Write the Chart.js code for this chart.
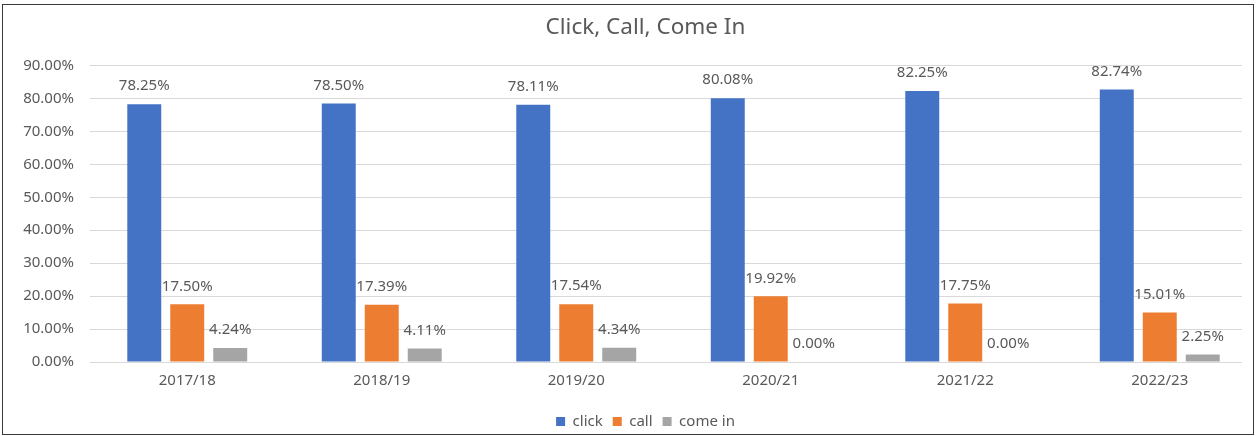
<!DOCTYPE html>
<html>
<head>
<meta charset="utf-8">
<script src="https://cdn.jsdelivr.net/npm/chart.js@4.4.0/dist/chart.umd.min.js"></script>
<style>
  html, body { margin: 0; padding: 0; background: #fff; }
  .chart-box {
    position: absolute; left: 2px; top: 4px;
    width: 1250px; height: 429px;
    border: 1px solid #3a3a3a;
    background: #fff;
  }
  canvas { display: block; }
</style>
</head>
<body>
<div class="chart-box"><canvas id="chart"></canvas></div>
<script>
const years = ['2017/18', '2018/19', '2019/20', '2020/21', '2021/22', '2022/23'];
const click = [78.25, 78.50, 78.11, 80.08, 82.25, 82.74];
const call = [17.50, 17.39, 17.54, 19.92, 17.75, 15.01];
const comeIn = [4.24, 4.11, 4.34, 0.00, 0.00, 2.25];

const textColor = '#595959';
const fontFamily = '"Noto Sans", "Open Sans", sans-serif';

// category axis whose groups spread a little past the gridlines, as in the original
class WideCategory extends Chart.CategoryScale {
  configure() {
    super.configure();
    this._length += 15;
  }
}
WideCategory.id = 'wideCategory';

// value axis that lets its labels run left of its narrow box
class FreeLinear extends Chart.LinearScale {
  _computeLabelArea() { return undefined; }
}
FreeLinear.id = 'freeLinear';
Chart.register(WideCategory, FreeLinear);

// draws the value above every bar, like Excel data labels
const valueLabels = {
  id: 'valueLabels',
  afterDatasetsDraw(chart) {
    const ctx = chart.ctx;
    ctx.save();
    ctx.font = '15px ' + fontFamily;
    ctx.fillStyle = textColor;
    ctx.textAlign = 'center';
    ctx.textBaseline = 'middle';
    chart.data.datasets.forEach((ds, i) => {
      const meta = chart.getDatasetMeta(i);
      meta.data.forEach((bar, j) => {
        ctx.fillText(ds.data[j].toFixed(2) + '%', bar.x, bar.y - 18);
      });
    });
    ctx.restore();
  }
};

const ctx = document.getElementById('chart').getContext('2d');
new Chart(ctx, {
  type: 'bar',
  data: {
    labels: years,
    datasets: [
      { label: 'click', data: click, backgroundColor: '#4472C4' },
      { label: 'call', data: call, backgroundColor: '#ED7D31' },
      { label: 'come in', data: comeIn, backgroundColor: '#A5A5A5' }
    ]
  },
  options: {
    responsive: true,
    maintainAspectRatio: false,
    animation: false,
    datasets: { bar: { barPercentage: 0.79, categoryPercentage: 0.663 } },
    layout: { padding: { left: 46, right: 11, top: 0, bottom: -5 } },
    plugins: {
      title: {
        display: true,
        text: 'Click, Call, Come In',
        color: textColor,
        font: { family: fontFamily, size: 22.5, weight: 'normal' },
        padding: { top: 9.5, bottom: 24 }
      },
      legend: {
        position: 'bottom',
        labels: {
          color: textColor,
          font: { family: fontFamily, size: 15 },
          boxWidth: 9,
          boxHeight: 9,
          padding: 10
        }
      },
      tooltip: { enabled: false }
    },
    scales: {
      x: {
        type: 'wideCategory',
        grid: { display: false, drawTicks: false },
        border: { display: false },
        ticks: { color: textColor, font: { family: fontFamily, size: 15 }, padding: 10 },
        afterFit(scale) { scale.height = 42; }
      },
      y: {
        type: 'freeLinear',
        min: 0,
        max: 90,
        grid: { color: '#d9d9d9', drawTicks: false },
        border: { display: false },
        ticks: {
          stepSize: 10,
          color: textColor,
          font: { family: fontFamily, size: 15 },
          padding: 16,
          callback: v => v.toFixed(2) + '%'
        },
        afterFit(scale) { scale.width = 41; }
      }
    }
  },
  plugins: [valueLabels]
});
</script>
</body>
</html>
